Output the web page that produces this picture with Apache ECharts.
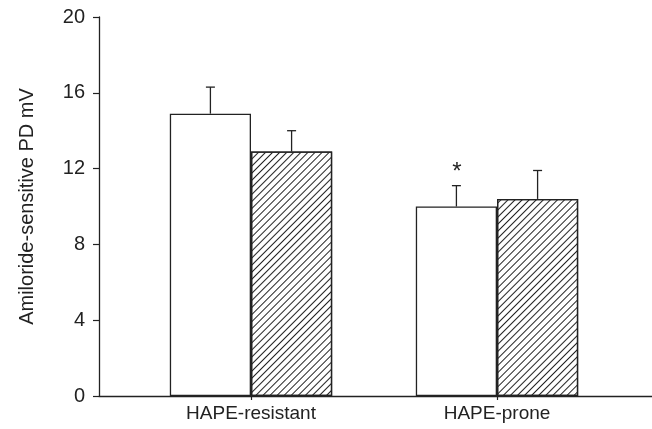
<!DOCTYPE html>
<html>
<head>
<meta charset="utf-8">
<script src="https://cdn.jsdelivr.net/npm/echarts@6/dist/echarts.min.js"></script>
<style>
html,body{margin:0;padding:0;background:#fff;}
#chart{width:652px;height:429px;}
</style>
</head>
<body>
<div id="chart"></div>
<script>
// Data
const categories = ['HAPE-resistant', 'HAPE-prone'];
const whiteValues = [14.9, 10.0];
const whiteErrors = [1.4, 1.1];
const hatchedValues = [12.9, 10.4];
const hatchedErrors = [1.1, 1.5];
const whiteMarks = ['', '*'];
const hatchedMarks = ['', ''];
const yMin = 0, yMax = 20, yInterval = 4;
const yAxisName = 'Amiloride-sensitive PD mV';

const ink = '#222';
const fontFamily = '"Liberation Sans", Arial, Helvetica, sans-serif';
const barWidthRatio = 0.33;

function errorRenderer(values, errors, marks, side) {
  return function (params, api) {
    const i = params.dataIndex;
    const base = api.coord([i, values[i]]);
    const top = api.coord([i, values[i] + errors[i]]);
    const bw = api.size([1, 0])[0] * barWidthRatio;
    const x = base[0] + side * bw / 2;
    const cap = 4.5;
    const children = [
      { type: 'line', shape: { x1: x, y1: base[1], x2: x, y2: top[1] }, style: { stroke: ink, lineWidth: 1.3 } },
      { type: 'line', shape: { x1: x - cap, y1: top[1], x2: x + cap, y2: top[1] }, style: { stroke: ink, lineWidth: 1.3 } }
    ];
    if (marks[i]) {
      children.push({
        type: 'text',
        style: { text: marks[i], x: x + 0.5, y: top[1] - 1, align: 'center', verticalAlign: 'bottom',
                 fill: ink, font: '24px ' + fontFamily }
      });
    }
    return { type: 'group', children: children };
  };
}

const chart = echarts.init(document.getElementById('chart'), null, { renderer: 'canvas' });
chart.setOption({
  animation: false,
  backgroundColor: '#fff',
  grid: [
    { left: 99, right: -10, top: 17, bottom: 33, containLabel: false },
    { left: 128, right: 32, top: 17, bottom: 33, containLabel: false }
  ],
  xAxis: [
    { gridIndex: 0, type: 'value', min: 0, max: 1,
      axisLine: { show: true, lineStyle: { color: ink, width: 1.3 } },
      axisTick: { show: false }, axisLabel: { show: false }, splitLine: { show: false } },
    { gridIndex: 1, type: 'category', data: categories,
      axisLine: { show: false },
      axisTick: { show: true, alignWithLabel: true, length: 4, lineStyle: { color: ink, width: 1.2 } },
      axisLabel: { color: ink, fontSize: 19, fontFamily: fontFamily, margin: 8 },
      splitLine: { show: false } }
  ],
  yAxis: [
    { gridIndex: 0, type: 'value', min: yMin, max: yMax, interval: yInterval,
      name: yAxisName, nameLocation: 'middle', nameGap: 62,
      nameTextStyle: { color: ink, fontSize: 20, fontFamily: fontFamily },
      axisLine: { show: true, lineStyle: { color: ink, width: 1.3 } },
      axisTick: { show: true, length: 6, lineStyle: { color: ink, width: 1.2 } },
      axisLabel: { color: ink, fontSize: 20, fontFamily: fontFamily, margin: 14 },
      splitLine: { show: false } },
    { gridIndex: 1, type: 'value', min: yMin, max: yMax, interval: yInterval, show: false }
  ],
  series: [
    { type: 'bar', xAxisIndex: 1, yAxisIndex: 1, data: whiteValues,
      barWidth: (barWidthRatio * 100) + '%', barGap: '0%',
      itemStyle: { color: '#fff', borderColor: ink, borderWidth: 1.3 } },
    { type: 'bar', xAxisIndex: 1, yAxisIndex: 1, data: hatchedValues,
      barWidth: (barWidthRatio * 100) + '%', barGap: '0%',
      itemStyle: { color: '#fff', borderColor: ink, borderWidth: 1.3,
        decal: { symbol: 'rect', symbolSize: 1, color: ink,
                 dashArrayX: [1, 0], dashArrayY: [0.9, 4], rotation: -Math.PI / 4 } } },
    { type: 'custom', xAxisIndex: 1, yAxisIndex: 1, z: 5,
      data: categories.map((c, i) => [i, whiteValues[i] + whiteErrors[i]]),
      renderItem: errorRenderer(whiteValues, whiteErrors, whiteMarks, -1) },
    { type: 'custom', xAxisIndex: 1, yAxisIndex: 1, z: 5,
      data: categories.map((c, i) => [i, hatchedValues[i] + hatchedErrors[i]]),
      renderItem: errorRenderer(hatchedValues, hatchedErrors, hatchedMarks, 1) }
  ]
});
</script>
</body>
</html>
